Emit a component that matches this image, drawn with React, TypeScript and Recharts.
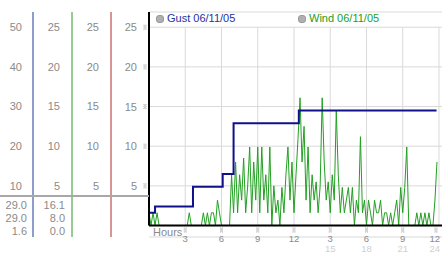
import React from 'react';
import { ComposedChart, Line, XAxis, YAxis, CartesianGrid, ReferenceLine } from 'recharts';

// wind speed, one reading every 10 minutes from midnight
const windSpeeds = [
  1.6, 0, 1.6, 0, 1.6, 0,
  0, 0, 0, 0, 0, 0,
  0, 0, 0, 0, 0, 0,
  0, 0, 1.6, 0, 0, 0,
  0, 0, 0, 1.6, 0, 1.6,
  0, 1.6, 1.6, 0, 3.2, 1.6,
  0, 0, 0, 0, 0, 6.4,
  1.6, 8, 1.6, 6.4, 3.2, 8.5,
  1.6, 5, 9.9, 1.6, 8, 3.2,
  9.9, 1.6, 9.9, 3.2, 6.4, 1.6,
  9.9, 0, 5, 1.6, 3.2, 0,
  4.8, 1.6, 6.4, 9.9, 3.2, 8,
  1.6, 6.4, 11, 16.1, 8, 12.5,
  3.2, 9.9, 1.6, 6.4, 3.2, 5.5,
  1.6, 5, 16.1, 8, 3.2, 5.5,
  1.6, 6.4, 3.2, 14.5, 6.4, 1.6,
  4.8, 1.6, 3.2, 4.8, 1.6, 4.8,
  0, 3.2, 1.6, 11.2, 1.6, 3.2,
  0, 3.2, 1.6, 0, 3.2, 1.6,
  1.6, 3.2, 0, 1.6, 1.6, 0,
  1.6, 0, 1.6, 3.2, 0, 4.8,
  1.6, 4.8, 9.9, 0, 0, 0,
  0, 1.6, 0, 1.6, 0, 1.6,
  0, 1.6, 0, 0, 3.2, 8,
];

const gustHours = [0, 0.5, 3.64, 6.1, 7.0, 12.4, 23.8];
const gustSpeeds = [1.6, 2.4, 4.9, 6.5, 12.9, 14.5, 14.5];

const hourTicks = [0, 3, 6, 9, 12, 15, 18, 21, 24];
const hourLabels = ['Hours', '3', '6', '9', '12', '3', '6', '9', '12'];
const hourLabels2 = ['', '', '', '', '', '15', '18', '21', '24'];
const speedTicks = [5, 10, 15, 20, 25];
const pressureTicks = [10, 20, 30, 40, 50];
const statsLeft = ['29.0', '29.0', '1.6'];
const statsMid = ['16.1', '8.0', '0.0'];
const legendNames = ['Gust 06/11/05', 'Wind 06/11/05'];

const windData = windSpeeds.map((wind, i) => ({ h: i / 6, wind }));
const gustData = gustHours.map((h, i) => ({ h, gust: gustSpeeds[i] }));

const FONT = '"Liberation Sans", Arial, sans-serif';
const TICK = '#8a8a8a';
const GRID = '#d9d9d9';
const GUST = '#10108a';
const GUST_TEXT = '#2233a0';
const WIND = '#22a022';
const AXIS_BLUE = '#1d3c96';
const AXIS_GREEN = '#2a9a2a';
const AXIS_RED = '#b02a2a';

const SPEED_DOMAIN: [number, number] = [-1.45, 26.92];
const PRESSURE_DOMAIN: [number, number] = [-2.9, 53.84];

// axis ids are stacked outward from the plot in id order
const SPEED = 'a1';
const RED_SCALE = 'a2';
const GREEN_SCALE = 'a3';
const BLUE_SCALE = 'a4';

// little dotted tick glyph
const DOTS = [[-1, -2], [1, -2], [0, -1], [-1, 0], [1, 0], [0, 1], [-1, 2], [1, 2]];
const TickMark = ({ x, y }: { x: number; y: number }) => (
  <g fill="#a8a8a8">
    {DOTS.map(([dx, dy], k) => (
      <rect key={k} x={x + dx - 0.5} y={y + dy - 0.5} width={1} height={1} />
    ))}
  </g>
);

const MarkedTick = (props: any) => {
  const { x, y, payload } = props;
  return (
    <g>
      <text x={x} y={y} textAnchor="end" dominantBaseline="central" fill={TICK} fontSize={11} fontFamily={FONT}>
        {payload.value}
      </text>
      <TickMark x={x + 8} y={y} />
    </g>
  );
};

const HourTick = (props: any) => {
  const { x, y, payload } = props;
  const i = hourTicks.indexOf(payload.value);
  if (i === 0) {
    return (
      <text x={x + 4} y={y - 5} dominantBaseline="central" fill={TICK} fontSize={11} fontFamily={FONT}>
        {hourLabels[0]}
      </text>
    );
  }
  const last = i === hourTicks.length - 1;
  const tx = last ? x + 1 : x;
  const anchor = last ? 'end' : 'middle';
  return (
    <g>
      <TickMark x={last ? x - 3 : x} y={y - 7} />
      <text x={tx} y={y + 1.5} textAnchor={anchor} dominantBaseline="central" fill={TICK} fontSize={9.5} fontFamily={FONT}>
        {hourLabels[i]}
      </text>
      <text x={tx} y={y + 11} textAnchor={anchor} dominantBaseline="central" fill="#cfcfcf" fontSize={9.5} fontFamily={FONT}>
        {hourLabels2[i]}
      </text>
    </g>
  );
};

const tickStyle = { fill: TICK, fontSize: 11, fontFamily: FONT };

export default function App() {
  return (
    <div style={{ position: 'relative', width: 442, height: 253, background: '#fff', fontFamily: FONT, overflow: 'hidden' }}>
      <style>{'body{margin:0}'}</style>
      <ComposedChart width={442} height={253} margin={{ top: 12, right: 0, bottom: 0, left: 0 }}>
        <CartesianGrid yAxisId={SPEED} vertical={false} stroke={GRID} />
        <XAxis
          xAxisId={0}
          type="number"
          dataKey="h"
          domain={[0, 24.25]}
          ticks={hourTicks}
          allowDataOverflow
          height={16}
          axisLine={false}
          tickLine={false}
          tickSize={0}
          tickMargin={0}
          tick={<HourTick />}
          interval={0}
        />
        <YAxis
          yAxisId={SPEED}
          width={38}
          domain={SPEED_DOMAIN}
          allowDataOverflow
          ticks={speedTicks}
          axisLine={false}
          tickLine={false}
          tickSize={0}
          tickMargin={12}
          tick={<MarkedTick />}
          interval={0}
        />
        <YAxis
          yAxisId={RED_SCALE}
          width={39}
          domain={SPEED_DOMAIN}
          allowDataOverflow
          ticks={speedTicks}
          axisLine={{ stroke: AXIS_RED }}
          tickLine={false}
          tickSize={0}
          tickMargin={12}
          tick={tickStyle}
          interval={0}
        />
        <YAxis
          yAxisId={GREEN_SCALE}
          width={39}
          domain={SPEED_DOMAIN}
          allowDataOverflow
          ticks={speedTicks}
          axisLine={{ stroke: AXIS_GREEN }}
          tickLine={false}
          tickSize={0}
          tickMargin={12}
          tick={tickStyle}
          interval={0}
        />
        <YAxis
          yAxisId={BLUE_SCALE}
          width={33}
          domain={PRESSURE_DOMAIN}
          allowDataOverflow
          ticks={pressureTicks}
          axisLine={{ stroke: AXIS_BLUE }}
          tickLine={false}
          tickSize={0}
          tickMargin={11}
          tick={tickStyle}
          interval={0}
        />
        {hourTicks.slice(1).map((h) => (
          <ReferenceLine
            key={h}
            yAxisId={SPEED}
            segment={[{ x: h, y: 0 }, { x: h, y: 25 }]}
            stroke={GRID}
          />
        ))}
        <Line
          yAxisId={SPEED}
          data={windData}
          dataKey="wind"
          type="linear"
          stroke={WIND}
          strokeWidth={1}
          dot={false}
          isAnimationActive={false}
        />
        <Line
          yAxisId={SPEED}
          data={gustData}
          dataKey="gust"
          type="stepAfter"
          stroke={GUST}
          strokeWidth={2}
          dot={false}
          isAnimationActive={false}
        />
        <ReferenceLine yAxisId={SPEED} y={0} stroke="#000" strokeWidth={2} />
        <ReferenceLine
          yAxisId={SPEED}
          segment={[{ x: 0, y: 0 }, { x: 0, y: SPEED_DOMAIN[1] }]}
          stroke="#000"
          strokeWidth={2}
        />
      </ComposedChart>

      {/* legend */}
      {legendNames.map((name, i) => (
        <div
          key={name}
          style={{
            position: 'absolute',
            top: 12,
            left: 156 + i * 142,
            fontSize: 11,
            lineHeight: '13px',
            color: i === 0 ? GUST_TEXT : WIND,
            whiteSpace: 'nowrap',
            display: 'flex',
            alignItems: 'center',
          }}
        >
          <span
            style={{
              display: 'inline-block',
              width: 6,
              height: 6,
              borderRadius: 3,
              background: '#b0b0b0',
              border: '1px solid #999',
              marginRight: 3,
            }}
          />
          {name}
        </div>
      ))}

      {/* summary table under the scales */}
      <div style={{ position: 'absolute', top: 195, left: 0, width: 149, height: 2, background: '#a8a8a8' }} />
      {statsLeft.map((s, i) => (
        <div
          key={'l' + i}
          style={{ position: 'absolute', top: 199 + i * 13, left: 0, width: 27, textAlign: 'right', fontSize: 11, lineHeight: '13px', color: TICK }}
        >
          {s}
        </div>
      ))}
      {statsMid.map((s, i) => (
        <div
          key={'m' + i}
          style={{ position: 'absolute', top: 199 + i * 13, left: 0, width: 65, textAlign: 'right', fontSize: 11, lineHeight: '13px', color: TICK }}
        >
          {s}
        </div>
      ))}
    </div>
  );
}
